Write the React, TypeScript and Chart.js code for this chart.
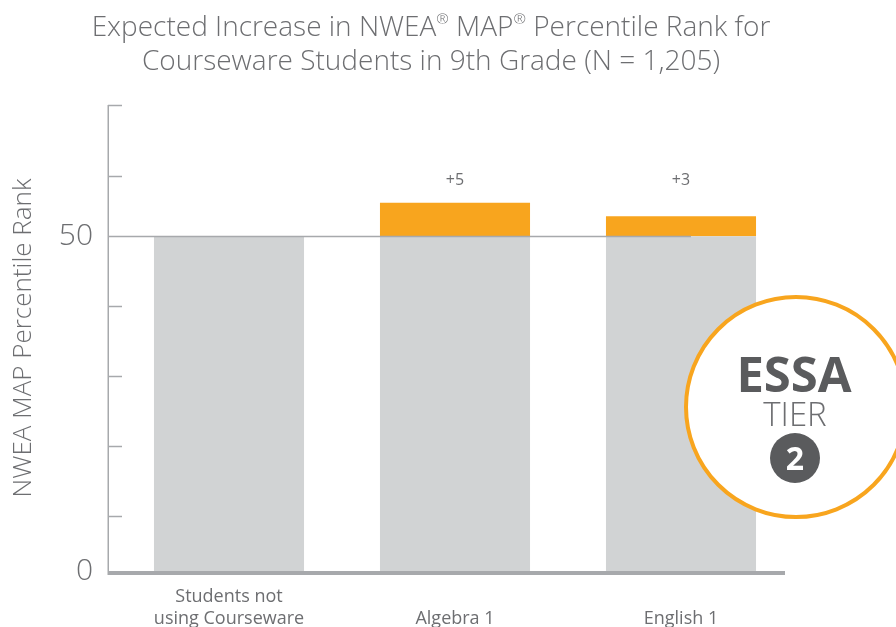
import { useEffect, useRef } from 'react';
import { Chart, registerables } from 'chart.js';

Chart.register(...registerables);

const titleLines = [
  'Expected Increase in NWEA® MAP® Percentile Rank for',
  'Courseware Students in 9th Grade (N = 1,205)',
];
const categories: (string | string[])[] = [['Students not', 'using Courseware'], 'Algebra 1', 'English 1'];
const baseValues = [50, 50, 50];
const increaseValues = [0, 5, 3];
const increaseLabels = ['', '+5', '+3'];
const yLabelValues = [0, 50];
const minorTickValues = [8.2, 18.7, 29.1, 39.6, 59, 69.6];
const referenceValue = 50;
const yMax = 69.6;
const yAxisTitle = 'NWEA MAP Percentile Rank';
const badgeLines = ['ESSA', 'TIER', '2'];

const FONT = '"Open Sans", "Noto Sans", sans-serif';
const TEXT = '#6d6e71';
const AXIS = '#a7a9ac';
const GRAY = '#d1d3d4';
const ORANGE = '#f8a51e';
const DARK = '#5a5b5d';

const BADGE = { cx: 796, cy: 407, r: 110 };
const AXIS_INSET = 8;

function drawRich(ctx: CanvasRenderingContext2D, text: string, cx: number, cy: number, size: number) {
  const parts = text.split('®');
  const big = `300 ${size}px ${FONT}`;
  const small = `300 ${Math.round(size * 0.55)}px ${FONT}`;
  let total = 0;
  parts.forEach((p, i) => {
    ctx.font = big;
    total += ctx.measureText(p).width;
    if (i < parts.length - 1) {
      ctx.font = small;
      total += ctx.measureText('®').width;
    }
  });
  let x = cx - total / 2;
  ctx.textAlign = 'left';
  ctx.textBaseline = 'middle';
  parts.forEach((p, i) => {
    ctx.font = big;
    ctx.fillText(p, x, cy);
    x += ctx.measureText(p).width;
    if (i < parts.length - 1) {
      ctx.font = small;
      ctx.fillText('®', x, cy - size * 0.3);
      x += ctx.measureText('®').width;
    }
  });
}

const decorPlugin = {
  id: 'decor',
  afterDatasetsDraw(chart: any) {
    const { ctx, chartArea, scales } = chart;
    const y = scales.y;
    const axisX = chartArea.left - AXIS_INSET;
    ctx.save();
    // axes
    ctx.strokeStyle = AXIS;
    ctx.lineWidth = 1.5;
    ctx.beginPath();
    ctx.moveTo(axisX + 0.25, chartArea.top);
    ctx.lineTo(axisX + 0.25, chartArea.bottom);
    ctx.stroke();
    minorTickValues.forEach((v) => {
      const py = Math.round(y.getPixelForValue(v)) + 0.5;
      ctx.beginPath();
      ctx.moveTo(axisX, py);
      ctx.lineTo(axisX + 14, py);
      ctx.stroke();
    });
    const ry = Math.round(y.getPixelForValue(referenceValue)) + 0.5;
    ctx.beginPath();
    ctx.moveTo(axisX, ry);
    ctx.lineTo(BADGE.cx - BADGE.r + 5, ry);
    ctx.stroke();

    ctx.lineWidth = 4;
    ctx.beginPath();
    ctx.moveTo(axisX - 0.5, chartArea.bottom + 2);
    ctx.lineTo(chartArea.right - AXIS_INSET - 1, chartArea.bottom + 2);
    ctx.stroke();

    // increase labels
    const meta = chart.getDatasetMeta(1);
    ctx.fillStyle = TEXT;
    ctx.font = `16px ${FONT}`;
    ctx.textAlign = 'center';
    ctx.textBaseline = 'middle';
    meta.data.forEach((el: any, i: number) => {
      if (!increaseLabels[i]) return;
      ctx.fillText(increaseLabels[i], el.x, chartArea.top + 75);
    });
    ctx.restore();
  },
  afterDraw(chart: any) {
    const { ctx } = chart;
    ctx.save();
    // title
    ctx.fillStyle = TEXT;
    drawRich(ctx, titleLines[0], 431, 28, 28);
    drawRich(ctx, titleLines[1], 431, 62, 28);

    // badge
    ctx.beginPath();
    ctx.arc(BADGE.cx, BADGE.cy, BADGE.r, 0, Math.PI * 2);
    ctx.fillStyle = '#ffffff';
    ctx.fill();
    ctx.lineWidth = 4;
    ctx.strokeStyle = ORANGE;
    ctx.stroke();

    ctx.textAlign = 'center';
    ctx.textBaseline = 'alphabetic';
    ctx.fillStyle = DARK;
    ctx.font = `bold 49px ${FONT}`;
    ctx.fillText(badgeLines[0], 794, 392);
    ctx.fillStyle = TEXT;
    ctx.font = `300 33px ${FONT}`;
    ctx.fillText(badgeLines[1], 795, 426);
    ctx.beginPath();
    ctx.arc(795, 458, 25, 0, Math.PI * 2);
    ctx.fillStyle = DARK;
    ctx.fill();
    ctx.fillStyle = '#ffffff';
    ctx.font = `bold 32px ${FONT}`;
    ctx.fillText(badgeLines[2], 795, 470);
    ctx.restore();
  },
};

export default function App() {
  const ref = useRef<HTMLCanvasElement | null>(null);
  useEffect(() => {
    document.body.style.margin = '0';
    const canvas = ref.current!;
    const chart = new Chart(canvas, {
      type: 'bar',
      data: {
        labels: categories as any,
        datasets: [
          { data: baseValues, backgroundColor: GRAY, stack: 's', barPercentage: 0.664, categoryPercentage: 1 },
          { data: increaseValues, backgroundColor: ORANGE, stack: 's', barPercentage: 0.664, categoryPercentage: 1 },
        ],
      },
      options: {
        responsive: false,
        animation: false,
        layout: { padding: { top: 105, right: 102, left: 0, bottom: 0 } },
        plugins: { legend: { display: false }, tooltip: { enabled: false }, title: { display: false } },
        scales: {
          x: {
            stacked: true,
            grid: { display: false },
            border: { display: false },
            ticks: {
              color: TEXT,
              font: { family: FONT, size: 18 },
              padding: 18,
              maxRotation: 0,
              autoSkip: false,
              crossAlign: 'far',
            },
            afterFit: (s: any) => {
              s.height = 56;
            },
          },
          y: {
            stacked: true,
            min: 0,
            max: yMax,
            grid: { display: false },
            border: { display: false },
            afterBuildTicks: (s: any) => {
              s.ticks = yLabelValues.map((v) => ({ value: v }));
            },
            ticks: {
              color: TEXT,
              font: { family: FONT, size: 30, weight: '300' },
              padding: 15,
            },
            title: {
              display: true,
              text: yAxisTitle,
              color: TEXT,
              font: { family: FONT, size: 26, weight: '300' },
              padding: { top: 8, bottom: 0 },
            },
            afterFit: (s: any) => {
              s.width = 116;
            },
          },
        },
      },
      plugins: [decorPlugin],
    } as any);
    return () => chart.destroy();
  }, []);
  return <canvas ref={ref} width={896} height={627} style={{ display: 'block' }} />;
}
